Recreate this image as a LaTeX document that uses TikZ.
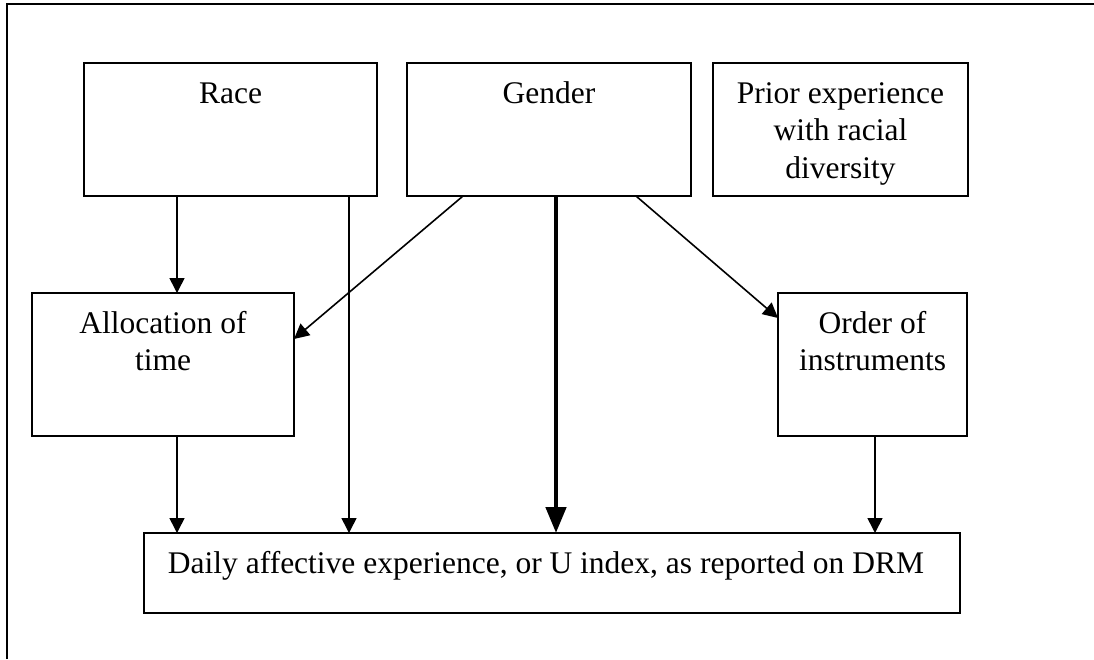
\documentclass[tikz,border=0pt]{standalone}
\usepackage{fontspec}
\setmainfont{Liberation Serif}
\usetikzlibrary{arrows.meta,calc}
\begin{document}
\begin{tikzpicture}[x=1pt,y=-1pt,
  box/.style={draw,line width=1.6pt,anchor=north west,inner sep=0pt,outer sep=0pt},
  lbl/.style={anchor=north,inner sep=0pt,align=center,font=\fontsize{31.5}{37.5}\selectfont},
  arr/.style={line width=1.6pt,-{Triangle[length=15pt,width=15pt]}},
  thickarr/.style={line width=4.7pt,-{Triangle[length=26pt,width=20pt]}}]
\useasboundingbox (0,0) rectangle (1094,659);
% outer frame (open at right and bottom)
\draw[line width=2pt] (7,659) -- (7,4) -- (1094,4);
% boxes
\node[box,minimum width=293pt,minimum height=133pt] (race) at (84,63) {};
\node[box,minimum width=284pt,minimum height=133pt] (gender) at (407,63) {};
\node[box,minimum width=255pt,minimum height=133pt] (prior) at (713,63) {};
\node[box,minimum width=262pt,minimum height=143pt] (alloc) at (32,293) {};
\node[box,minimum width=189pt,minimum height=143pt] (order) at (778,293) {};
\node[box,minimum width=816pt,minimum height=80pt] (drm) at (144,533) {};
% texts
\node[lbl] (race-t) at ($(race.north)+(0,13.75)$) {\strut Race};
\node[lbl] (gender-t) at ($(gender.north)+(0,13.75)$) {\strut Gender};
\node[lbl] (prior-t) at ($(prior.north)+(0,13.75)$) {\strut Prior experience\\with racial\\diversity};
\node[lbl] (alloc-t) at ($(alloc.north)+(0,13.75)$) {\strut Allocation of\\time};
\node[lbl] (order-t) at ($(order.north)+(0,13.75)$) {\strut Order of\\instruments};
\node[lbl] (drm-t) at ($(drm.north)+(-6,13.75)$) {\strut Daily affective experience, or U index, as reported on DRM};
% connectors
\coordinate (r1) at ([xshift=93pt]race.south west);
\draw[arr] (r1) -- (r1 |- alloc.north);
\coordinate (r2) at ([xshift=-28pt]race.south east);
\draw[arr] (r2) -- (r2 |- drm.north);
\coordinate (a1) at ([xshift=145pt]alloc.south west);
\draw[arr] (a1) -- (a1 |- drm.north);
\coordinate (g1) at ([xshift=149pt]gender.south west);
\draw[thickarr] (g1) -- (g1 |- drm.north);
\coordinate (o1) at ([xshift=97pt]order.south west);
\draw[arr] (o1) -- (o1 |- drm.north);
\draw[arr] ([xshift=56pt]gender.south west) -- ([yshift=-46pt]alloc.north east);
\draw[arr] ([xshift=-55pt]gender.south east) -- ([yshift=-25pt]order.north west);
\end{tikzpicture}
\end{document}
